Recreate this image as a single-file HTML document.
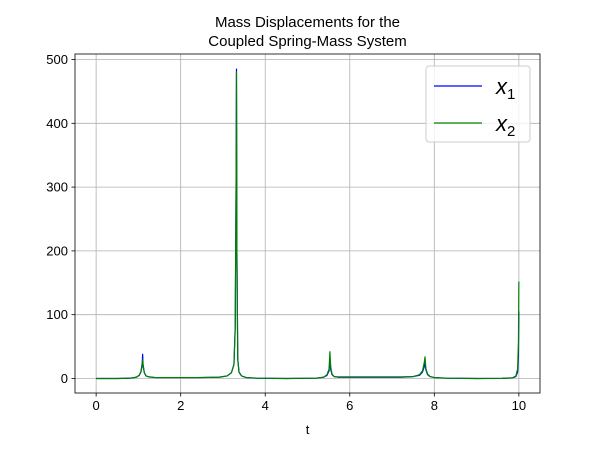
<!DOCTYPE html>
<html><head><meta charset="utf-8"><style>
body{margin:0;background:#fff;}
svg{display:block;font-family:"Liberation Sans","DejaVu Sans",sans-serif;}
</style></head><body>
<svg id="chart" width="600" height="450" viewBox="0 0 600 450" xmlns="http://www.w3.org/2000/svg">
<rect width="600" height="450" fill="#fff"/>
<g id="grid"></g><g id="series"></g><g id="axes"></g>
<text x="307.5" y="27" text-anchor="middle" font-size="15">Mass Displacements for the</text>
<text x="307.5" y="46" text-anchor="middle" font-size="15">Coupled Spring-Mass System</text>
<text x="307.5" y="434" text-anchor="middle" font-size="13">t</text>
<g>
<rect x="426" y="66" width="104" height="76" rx="3" fill="#fff" fill-opacity="0.8" stroke="#ccc"/>
<line x1="434" y1="86" x2="482" y2="86" stroke="#0000ff" stroke-width="1.2"/>
<text x="496" y="94" font-size="22" font-style="italic">x<tspan font-size="15" dy="5" font-style="normal">1</tspan></text>
<line x1="434" y1="123" x2="482" y2="123" stroke="#008000" stroke-width="1.2"/>
<text x="496" y="131" font-size="22" font-style="italic">x<tspan font-size="15" dy="5" font-style="normal">2</tspan></text>
</g>
</svg>
<script>
const tVals=[0,0.5,0.8,0.95,1.02,1.06,1.09,1.1,1.11,1.14,1.18,1.25,1.4,1.8,2.4,2.9,3.1,3.2,3.26,3.29,3.31,3.32,3.33,3.35,3.38,3.44,3.55,3.8,4.5,5.2,5.38,5.46,5.51,5.53,5.55,5.58,5.63,5.72,5.9,6.5,7.2,7.5,7.65,7.72,7.76,7.78,7.8,7.84,7.9,8.0,8.3,9.0,9.6,9.85,9.93,9.97,9.99,10.0];
const x1Vals=[0,0,0.5,2,5,11,24,38,22,9,4,2.5,1.5,1.5,1.5,2,4,9,22,80,300,485,200,30,10,4,1.5,0.5,0,0.5,2,5,12,26,14,6,3,2,2,2,2,3,5,10,18,24,14,6,3,1.5,0.5,0,0.3,1,3,10,35,105];
const x2Vals=[0,0,0.5,2,5,10,20,30,20,9,4,2.5,1.5,1.5,1.5,2,4,9,22,80,300,480,200,30,10,4,1.5,0.5,0,0.5,2,6,15,42,18,7,3,2.5,2.5,2.5,2.5,3,6,12,24,34,16,7,3,1.5,0.5,0,0.3,1,4,15,55,152];
const xTicks=[0,2,4,6,8,10];
const yTicks=[0,100,200,300,400,500];
const L=75,R=540,T=54,B=393;
const xs=v=>L+(v+0.5)/11*(R-L);
const ys=v=>378.5-v*0.638;
const NS="http://www.w3.org/2000/svg";
function mk(tag,attrs,parent){const e=document.createElementNS(NS,tag);for(const k in attrs)e.setAttribute(k,attrs[k]);parent.appendChild(e);return e;}
const grid=document.getElementById('grid'),axes=document.getElementById('axes'),series=document.getElementById('series');
xTicks.forEach(v=>{const x=xs(v);
 const g=mk('line',{x1:x,x2:x,y1:T,y2:B,stroke:'#b0b0b0','stroke-width':0.8},grid);
 
 
 mk('line',{x1:x,x2:x,y1:B,y2:B+3.5,stroke:'#000','stroke-width':0.8},axes);
 const t=mk('text',{x:x,y:B+17,'text-anchor':'middle','font-size':13},axes);t.textContent=v;
 
 });
yTicks.forEach(v=>{const y=ys(v);
 const g=mk('line',{x1:L,x2:R,y1:y,y2:y,stroke:'#b0b0b0','stroke-width':0.8},grid);
 
 
 mk('line',{x1:L-3.5,x2:L,y1:y,y2:y,stroke:'#000','stroke-width':0.8},axes);
 const t=mk('text',{x:L-7,y:y+4.5,'text-anchor':'end','font-size':13},axes);t.textContent=v;
 
 });
const fr=mk('rect',{x:L,y:T,width:R-L,height:B-T,fill:'none',stroke:'#000','stroke-width':0.8},axes);


function line(vals,color,name){const d=tVals.map((t,i)=>(i?'L':'M')+xs(t).toFixed(2)+' '+ys(vals[i]).toFixed(2)).join(' ');
 const p=mk('path',{d:d,fill:'none',stroke:color,'stroke-width':1.2,'stroke-linejoin':'round'},series);
 
 }
line(x1Vals,'#0000ff','series-x1');
line(x2Vals,'#008000','series-x2');
</script>
</body></html>
